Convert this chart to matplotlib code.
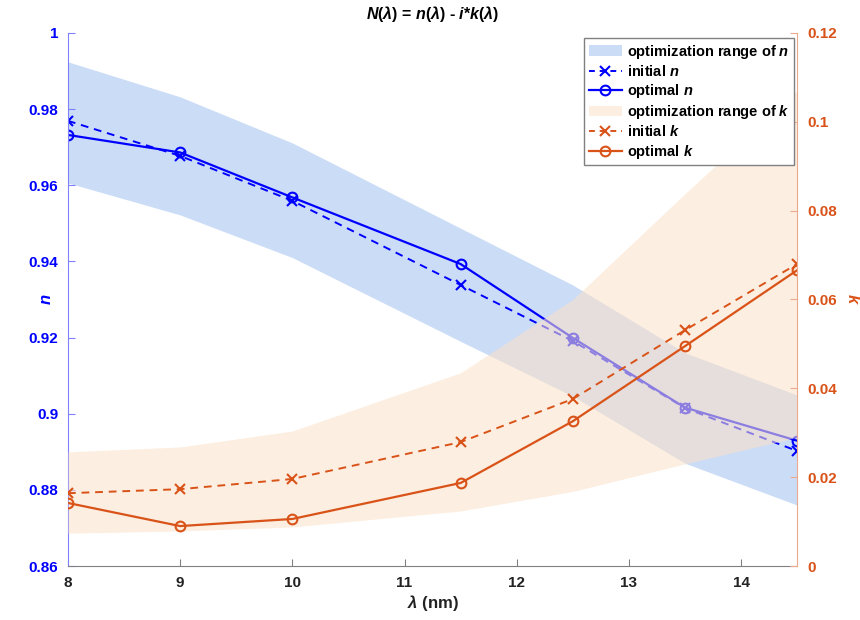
import numpy as np
import matplotlib
matplotlib.use('Agg')
import matplotlib.pyplot as plt
from matplotlib.patches import Patch

plt.rcParams['font.family'] = ['Liberation Sans', 'DejaVu Sans']
plt.rcParams['font.weight'] = 'bold'
plt.rcParams['mathtext.fontset'] = 'custom'
plt.rcParams['mathtext.rm'] = 'Liberation Sans:bold'
plt.rcParams['mathtext.it'] = 'Liberation Sans:bold:italic'
plt.rcParams['mathtext.bf'] = 'Liberation Sans:bold'

# wavelengths (nm)
lam = [8, 9, 10, 11.5, 12.5, 13.5, 14.5]

# refractive index n
n_init = [0.9769, 0.9677, 0.9559, 0.9338, 0.9191, 0.9015, 0.8902]
n_opt = [0.9732, 0.9686, 0.9568, 0.9393, 0.9199, 0.9016, 0.8929]
n_hi = [0.9924, 0.9832, 0.9711, 0.9487, 0.9338, 0.9160, 0.9049]
n_lo = [0.9606, 0.9522, 0.9410, 0.9190, 0.9046, 0.8870, 0.8760]

# extinction coefficient k
k_init = [0.0164, 0.0173, 0.0196, 0.0279, 0.0376, 0.0531, 0.0680]
k_opt = [0.0142, 0.0090, 0.0106, 0.0187, 0.0326, 0.0495, 0.0666]
k_hi = [0.0257, 0.0268, 0.0304, 0.0435, 0.0600, 0.0838, 0.1070]
k_lo = [0.0074, 0.0079, 0.0088, 0.0124, 0.0168, 0.0230, 0.0290]

blue = '#0000FF'
orange = '#D95319'
nfill = '#CBDCF6'
kfill = (251/255, 225/255, 200/255)

fig = plt.figure(figsize=(8.6, 6.2), dpi=100)
ax = fig.add_axes([0.079, 0.087, 0.848, 0.860])
ax2 = ax.twinx()

ax.fill_between(lam, n_lo, n_hi, color=nfill, linewidth=0)
ax.plot(lam, n_init, '--', color=blue, marker='x', ms=7, mew=1.5, lw=1.4, dashes=(4, 3))
ax.plot(lam, n_opt, '-', color=blue, marker='o', ms=7, mfc='none', mew=1.5, lw=1.6)

ax2.fill_between(lam, k_lo, k_hi, color=kfill, alpha=0.56, linewidth=0)
ax2.plot(lam, k_init, '--', color=orange, marker='x', ms=7, mew=1.5, lw=1.4, dashes=(4, 3))
ax2.plot(lam, k_opt, '-', color=orange, marker='o', ms=7, mfc='none', mew=1.5, lw=1.6)

ax.set_xlim(8, 14.5)
ax.set_ylim(0.86, 1)
ax2.set_ylim(0, 0.12)
ax.set_xticks([8, 9, 10, 11, 12, 13, 14])
ax.set_yticks(np.arange(0.86, 1.001, 0.02))
ax.set_yticklabels(['0.86', '0.88', '0.9', '0.92', '0.94', '0.96', '0.98', '1'])
ax2.set_yticks(np.arange(0, 0.121, 0.02))
ax2.set_yticklabels(['0', '0.02', '0.04', '0.06', '0.08', '0.1', '0.12'])

for a in (ax, ax2):
    a.spines['top'].set_visible(False)
ax.spines['right'].set_visible(False)
ax.spines['left'].set_color('#8080FF')
ax.spines['bottom'].set_color('#808080')
ax2.spines['right'].set_color('#EDA98C')
ax2.spines['left'].set_visible(False)
ax2.spines['bottom'].set_visible(False)

ax.tick_params(axis='x', direction='in', length=5, color='#808080', labelsize=11, labelcolor='#222222', pad=7)
ax.tick_params(axis='y', direction='in', length=5, color='#8080FF', labelsize=11, labelcolor=blue, pad=7)
ax2.tick_params(axis='y', direction='in', length=5, color='#EDA98C', labelsize=11, labelcolor=orange, pad=7)

ax.set_xlabel(r'$\mathit{λ}$ (nm)', fontsize=12, fontweight='bold', color='#222222', labelpad=2)
ax.set_ylabel(r'$\mathit{n}$', fontsize=12, color=blue, va='center')
ax.yaxis.set_label_coords(-0.029, 0.5)
ax2.set_ylabel(r'$\mathit{k}$', fontsize=12, color=orange, labelpad=6, rotation=-90, va='bottom')
ax.set_title(r'$\mathit{N}$($\mathit{λ}$) = $\mathit{n}$($\mathit{λ}$) - $\mathit{i}$*$\mathit{k}$($\mathit{λ}$)',
             fontsize=11.5, fontweight='bold', pad=10)

handles = [
    Patch(facecolor=nfill, edgecolor='none'),
    plt.Line2D([], [], ls='--', color=blue, marker='x', ms=7, mew=1.5, lw=1.4, dashes=(3, 2.5)),
    plt.Line2D([], [], ls='-', color=blue, marker='o', ms=7, mfc='none', mew=1.5, lw=1.6),
    Patch(facecolor=kfill, alpha=0.56, edgecolor='none'),
    plt.Line2D([], [], ls='--', color=orange, marker='x', ms=7, mew=1.5, lw=1.4, dashes=(3, 2.5)),
    plt.Line2D([], [], ls='-', color=orange, marker='o', ms=7, mfc='none', mew=1.5, lw=1.6),
]
labels = [r'optimization range of $\mathit{n}$', r'initial $\mathit{n}$', r'optimal $\mathit{n}$',
          r'optimization range of $\mathit{k}$', r'initial $\mathit{k}$', r'optimal $\mathit{k}$']
leg = ax2.legend(handles, labels, loc='upper right', bbox_to_anchor=(0.995, 0.99),
                 fontsize=10.5, frameon=True, fancybox=False, framealpha=1,
                 edgecolor='#808080', borderpad=0.3, labelspacing=0.22,
                 handlelength=2.3, handletextpad=0.3, borderaxespad=0)
leg.get_frame().set_linewidth(1.0)

fig.savefig('out.png', dpi=100)
